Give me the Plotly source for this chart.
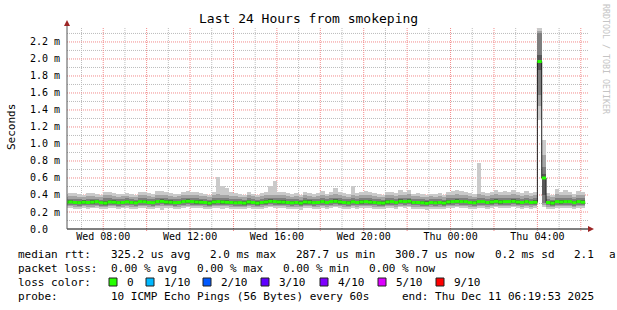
import plotly.graph_objects as go
import pandas as pd

# ---------------- data (values in microseconds, 12-minute steps) ----------------
STEP_START = "2025-12-10 06:12:00"
STEP_MINUTES = 12
X_RANGE = ["2025-12-10 06:19:53", "2025-12-11 06:19:53"]

p10 = [415,
 420, 425, 410, 405, 420, 425, 415, 405, 430, 440,
 420, 410, 415, 425, 410, 405, 440, 435, 420, 415,
 445, 450, 430, 425, 410, 415, 440, 445, 440, 435,
 425, 415, 400, 430, 610, 500, 480, 440, 420, 410,
 400, 430, 415, 405, 420, 430, 500, 570, 440, 430,
 425, 410, 420, 405, 430, 425, 410, 420, 450, 415,
 440, 480, 430, 425, 410, 500, 420, 435, 445, 430,
 420, 410, 400, 430, 440, 425, 455, 440, 460, 415,
 420, 410, 400, 415, 410, 420, 405, 430, 445, 460,
 450, 440, 420, 410, 780, 440, 420, 430, 460, 435,
 450, 440, 460, 430, 420, 445, 425, 440,
 2365, 1050,
 420, 400, 470, 430, 460, 440, 410, 450, 430]

p9 = [380,
 385, 390, 380, 375, 390, 385, 380, 375, 395, 400,
 385, 380, 385, 390, 380, 375, 400, 395, 385, 380,
 400, 405, 395, 390, 380, 385, 400, 405, 400, 395,
 390, 385, 375, 395, 410, 400, 395, 390, 385, 380,
 375, 395, 385, 375, 385, 395, 405, 400, 400, 395,
 390, 380, 385, 375, 395, 390, 380, 385, 400, 385,
 400, 410, 395, 390, 380, 405, 385, 395, 400, 395,
 385, 380, 375, 395, 400, 390, 405, 400, 410, 385,
 385, 380, 375, 385, 380, 385, 375, 395, 400, 410,
 405, 400, 385, 380, 410, 400, 385, 395, 410, 395,
 405, 400, 410, 395, 385, 400, 390, 400,
 2330, 870,
 385, 375, 410, 395, 405, 400, 380, 405, 395]

p8 = [350,
 355, 350, 350, 345, 355, 355, 350, 345, 360, 365,
 355, 350, 355, 360, 350, 345, 365, 360, 355, 350,
 365, 370, 360, 355, 350, 355, 365, 370, 365, 360,
 355, 355, 345, 360, 370, 365, 360, 355, 350, 350,
 345, 360, 355, 345, 355, 360, 370, 365, 365, 360,
 355, 350, 355, 345, 360, 355, 350, 355, 365, 355,
 365, 370, 360, 355, 350, 365, 355, 360, 365, 360,
 355, 350, 345, 360, 365, 355, 370, 365, 370, 355,
 355, 350, 345, 355, 350, 355, 345, 360, 365, 370,
 365, 365, 355, 350, 370, 365, 355, 360, 370, 360,
 365, 365, 370, 360, 355, 365, 355, 360,
 2310, 730,
 355, 345, 370, 360, 365, 365, 350, 365, 360]

p7 = [335,
 340, 335, 332, 338, 335, 338, 345, 332, 328, 340,
 338, 332, 335, 342, 335, 330, 345, 342, 335, 332,
 345, 350, 340, 338, 332, 335, 345, 350, 345, 340,
 338, 335, 328, 342, 345, 340, 338, 335, 330, 332,
 328, 340, 335, 328, 335, 340, 348, 345, 342, 340,
 335, 330, 335, 328, 340, 338, 332, 335, 345, 335,
 345, 348, 340, 335, 330, 345, 335, 340, 345, 340,
 335, 330, 328, 340, 345, 335, 348, 345, 350, 335,
 335, 330, 325, 335, 330, 335, 328, 340, 345, 348,
 345, 345, 335, 330, 345, 345, 335, 340, 348, 340,
 345, 345, 348, 340, 335, 345, 335, 340,
 2050, 650,
 335, 328, 345, 340, 345, 345, 332, 345, 340]

median = [314,
 318, 312, 310, 315, 312, 316, 322, 310, 305, 318,
 315, 310, 312, 320, 312, 308, 322, 320, 312, 310,
 322, 325, 318, 315, 310, 312, 322, 326, 322, 318,
 315, 312, 305, 318, 322, 318, 315, 312, 308, 310,
 305, 318, 312, 305, 312, 318, 325, 322, 318, 316,
 312, 308, 312, 305, 318, 315, 310, 312, 322, 312,
 322, 325, 318, 312, 308, 320, 312, 318, 322, 316,
 312, 308, 305, 318, 322, 312, 325, 322, 326, 312,
 312, 308, 302, 312, 308, 312, 305, 318, 322, 325,
 322, 322, 312, 308, 322, 322, 312, 318, 325, 318,
 322, 322, 325, 318, 312, 322, 312, 315,
 1970, 600,
 312, 305, 322, 318, 322, 322, 310, 322, 315]

p4 = [296,
 300, 294, 292, 297, 294, 298, 304, 292, 287, 300,
 297, 292, 294, 301, 294, 290, 303, 301, 294, 292,
 303, 306, 299, 297, 292, 294, 303, 307, 303, 299,
 297, 294, 287, 299, 303, 299, 297, 294, 290, 292,
 287, 299, 294, 287, 294, 299, 306, 303, 299, 297,
 294, 290, 294, 287, 299, 297, 292, 294, 303, 294,
 303, 306, 299, 294, 290, 301, 294, 299, 303, 297,
 294, 290, 287, 299, 303, 294, 306, 303, 307, 294,
 294, 290, 285, 294, 290, 294, 287, 299, 303, 306,
 303, 303, 294, 290, 303, 303, 294, 299, 306, 299,
 303, 303, 306, 299, 294, 303, 294, 297,
 1870, 400,
 294, 287, 303, 299, 303, 303, 292, 303, 297]

p3 = [280,
 283, 278, 276, 281, 278, 280, 286, 276, 272, 283,
 281, 276, 278, 284, 278, 274, 286, 284, 278, 276,
 286, 289, 282, 281, 276, 278, 286, 290, 286, 282,
 281, 278, 272, 282, 286, 282, 281, 278, 274, 276,
 272, 282, 278, 272, 278, 282, 289, 286, 282, 281,
 278, 274, 278, 272, 282, 281, 276, 278, 286, 278,
 286, 289, 282, 278, 274, 284, 278, 282, 286, 281,
 278, 274, 272, 282, 286, 278, 289, 286, 290, 278,
 278, 274, 270, 278, 274, 278, 272, 282, 286, 289,
 286, 286, 278, 274, 286, 286, 278, 282, 289, 282,
 286, 286, 289, 282, 278, 286, 278, 281,
 1580, 300,
 278, 272, 286, 282, 286, 286, 276, 286, 281]

p2 = [265,
 268, 262, 260, 266, 262, 264, 270, 260, 256, 268,
 266, 260, 262, 268, 262, 258, 270, 268, 262, 260,
 270, 273, 266, 266, 260, 262, 270, 274, 270, 266,
 266, 262, 256, 266, 270, 266, 266, 262, 258, 260,
 256, 266, 262, 256, 262, 266, 273, 270, 266, 266,
 262, 258, 262, 256, 266, 266, 260, 262, 270, 262,
 270, 273, 266, 262, 258, 268, 262, 266, 270, 266,
 262, 258, 256, 266, 270, 262, 273, 270, 274, 262,
 262, 258, 254, 262, 258, 262, 256, 266, 270, 273,
 270, 270, 262, 258, 270, 270, 262, 266, 273, 266,
 270, 270, 273, 266, 262, 270, 262, 266,
 1450, 280,
 262, 256, 270, 266, 270, 270, 260, 270, 266]

p1 = [245,
 248, 240, 238, 246, 236, 244, 250, 232, 238, 248,
 246, 238, 242, 250, 236, 240, 252, 248, 236, 240,
 250, 226, 244, 248, 240, 236, 252, 256, 250, 244,
 246, 238, 230, 244, 252, 240, 246, 240, 234, 238,
 232, 246, 240, 230, 240, 246, 255, 250, 244, 242,
 240, 232, 238, 228, 246, 244, 236, 240, 252, 238,
 250, 254, 244, 240, 234, 248, 236, 246, 250, 244,
 240, 232, 230, 244, 250, 238, 255, 250, 256, 240,
 238, 232, 226, 240, 234, 240, 230, 246, 250, 255,
 250, 252, 240, 234, 250, 252, 240, 244, 255, 246,
 250, 252, 255, 244, 238, 250, 240, 244,
 1280, 260,
 238, 230, 252, 246, 252, 250, 236, 252, 244]

Y_TICK_VALS_MS = [0.0, 0.2, 0.4, 0.6, 0.8, 1.0, 1.2, 1.4, 1.6, 1.8, 2.0, 2.2]
Y_TICK_TEXT = ["0.0\u00a0\u00a0", "0.2 m", "0.4 m", "0.6 m", "0.8 m", "1.0 m", "1.2 m",
               "1.4 m", "1.6 m", "1.8 m", "2.0 m", "2.2 m"]
Y_MINOR_MS = [0.1, 0.3, 0.5, 0.7, 0.9, 1.1, 1.3, 1.5, 1.7, 1.9, 2.1, 2.3]
X_TICK_VALS = ["2025-12-10 08:00", "2025-12-10 10:00", "2025-12-10 12:00",
               "2025-12-10 14:00", "2025-12-10 16:00", "2025-12-10 18:00",
               "2025-12-10 20:00", "2025-12-10 22:00", "2025-12-11 00:00",
               "2025-12-11 02:00", "2025-12-11 04:00", "2025-12-11 06:00"]
X_TICK_TEXT = ["Wed 08:00", "", "Wed 12:00", "", "Wed 16:00", "",
               "Wed 20:00", "", "Thu 00:00", "", "Thu 04:00", ""]
X_MINOR = ["2025-12-10 07:00", "2025-12-10 09:00", "2025-12-10 11:00", "2025-12-10 13:00",
           "2025-12-10 15:00", "2025-12-10 17:00", "2025-12-10 19:00", "2025-12-10 21:00",
           "2025-12-10 23:00", "2025-12-11 01:00", "2025-12-11 03:00", "2025-12-11 05:00"]

LOSS_LABELS = ["0", "1/10", "2/10", "3/10", "4/10", "5/10", "9/10"]
LOSS_COLORS = ["#26ff00", "#00b8ff", "#0059ff", "#5e00ff", "#7e00ff", "#dd00ff", "#ff0000"]

n = len(median)
for arr in (p1, p2, p3, p4, p7, p8, p9, p10):
    assert len(arr) == n

# ---------------- geometry ----------------
W, H = 617, 310
L, R, T, B = 67, 29, 27, 81
PW, PH = W - L - R, H - T - B
Y_MAX = 2.376e-3
FONT = "DejaVu Sans Mono"
CH = 6.62  # monospace advance at 11px

def px(x):
    return (x - L) / PW

def py(y):
    return (H - B - y) / PH

def col_x(c):
    return 16 + CH * c

US = 1e-6
times = pd.date_range(STEP_START, periods=n, freq=f"{STEP_MINUTES}min")
step = pd.Timedelta(minutes=STEP_MINUTES)
centers = times + step / 2
width_ms = STEP_MINUTES * 60 * 1000

fig = go.Figure()

bands = [(p1, p10, "#cacaca"), (p2, p9, "#a4a4a4"), (p3, p8, "#7e7e7e"), (p4, p7, "#585858")]
for lo, hi, col in bands:
    fig.add_trace(go.Bar(
        x=centers, y=[(h - l) * US for l, h in zip(lo, hi)], base=[l * US for l in lo],
        width=width_ms, marker=dict(color=col, line=dict(width=0)),
        hoverinfo="skip", showlegend=False))

# median step line
fig.add_trace(go.Scatter(
    x=list(times) + [times[-1] + step], y=[m * US for m in median] + [median[-1] * US],
    mode="lines", line=dict(color="#202020", width=1, shape="hv"),
    hoverinfo="skip", showlegend=False))

# loss-coloured median segments
gx, gy = [], []
for t, m in zip(times, median):
    gx += [t, t + step, None]
    gy += [m * US, m * US, None]
fig.add_trace(go.Scatter(
    x=gx, y=gy, mode="lines", line=dict(color=LOSS_COLORS[0], width=3),
    hoverinfo="skip", showlegend=False))

fig.update_layout(
    width=W, height=H, margin=dict(l=L, r=R, t=T, b=B, pad=0),
    paper_bgcolor="white", plot_bgcolor="white",
    barmode="overlay", bargap=0, showlegend=False,
    font=dict(family=FONT, size=10, color="black"),
    xaxis=dict(
        type="date", range=X_RANGE, tickmode="array", tickvals=X_TICK_VALS, ticktext=X_TICK_TEXT,
        showgrid=False, zeroline=False, showline=False, ticks="",
        tickfont=dict(family=FONT, size=10, color="black"), fixedrange=True),
    yaxis=dict(
        range=[0, Y_MAX], tickmode="array", tickvals=[v * 1e-3 for v in Y_TICK_VALS_MS],
        ticktext=Y_TICK_TEXT, showgrid=False, zeroline=False, showline=False, ticks="",
        ticklabelstandoff=6, tickfont=dict(family=FONT, size=10, color="black"), fixedrange=True),
)

shapes = []
MAJOR = "#f28a8a"
MINOR = "#bdbdbd"
DOT = "1px,1px"
# grid as dotted shapes below the data
for v in Y_MINOR_MS:
    shapes.append(dict(type="line", xref="paper", yref="y", x0=0, x1=1, y0=v * 1e-3, y1=v * 1e-3,
                       line=dict(color=MINOR, width=1, dash=DOT), layer="below"))
for t in X_MINOR:
    shapes.append(dict(type="line", xref="x", yref="paper", x0=t, x1=t, y0=0, y1=1,
                       line=dict(color=MINOR, width=1, dash=DOT), layer="below"))
for v in Y_TICK_VALS_MS[1:]:
    shapes.append(dict(type="line", xref="paper", yref="y", x0=0, x1=1, y0=v * 1e-3, y1=v * 1e-3,
                       line=dict(color=MAJOR, width=1, dash=DOT), layer="below"))
for t in X_TICK_VALS:
    shapes.append(dict(type="line", xref="x", yref="paper", x0=t, x1=t, y0=py(231), y1=1,
                       line=dict(color=MAJOR, width=1, dash=DOT), layer="below"))

# axis lines and arrows
shapes.append(dict(type="line", xref="paper", yref="paper", x0=px(67), x1=px(590), y0=py(229), y1=py(229),
                   line=dict(color="black", width=1), layer="above"))
shapes.append(dict(type="line", xref="paper", yref="paper", x0=px(67), x1=px(67), y0=py(229), y1=py(24),
                   line=dict(color="#555555", width=1), layer="above"))
shapes.append(dict(type="path", xref="paper", yref="paper",
                   path=f"M {px(64)} {py(26)} L {px(70)} {py(26)} L {px(67)} {py(20)} Z",
                   fillcolor="#9c2525", line=dict(width=0), layer="above"))
shapes.append(dict(type="path", xref="paper", yref="paper",
                   path=f"M {px(588)} {py(226)} L {px(588)} {py(232)} L {px(594)} {py(229)} Z",
                   fillcolor="#9c2525", line=dict(width=0), layer="above"))

annotations = []
def text(x, y, s, size=11, color="black", xanchor="left", angle=0):
    annotations.append(dict(x=px(x), y=py(y), xref="paper", yref="paper", text=s, showarrow=False,
                            xanchor=xanchor, yanchor="middle", textangle=angle,
                            font=dict(family=FONT, size=size, color=color)))

text(308, 19, "Last 24 Hours from smokeping", size=13, xanchor="center")
text(11, 127, "Seconds", size=11, xanchor="center", angle=-90)
text(606, 59, "RRDTOOL / TOBI OETIKER", size=8.3, color="#c4c4c4", xanchor="center", angle=90)

# legend lines (monospace columns)
ly = [254, 268, 282, 296]
for c, s in [(0, "median rtt:"), (14, "325.2 us avg"), (29, "2.0 ms max"), (42, "287.7 us min"),
             (57, "300.7 us now"), (72, "0.2 ms sd"), (84, "2.1")]:
    text(col_x(c), ly[0], s)
text(607, ly[0], "a")
for c, s in [(0, "packet loss:"), (14, "0.00 % avg"), (27, "0.00 % max"), (40, "0.00 % min"),
             (53, "0.00 % now")]:
    text(col_x(c), ly[1], s)
text(col_x(0), ly[2], "loss color:")
box_x = [109, 146, 203, 261, 320, 378, 436]
for bx, lab, col in zip(box_x, LOSS_LABELS, LOSS_COLORS):
    shapes.append(dict(type="rect", xref="paper", yref="paper", x0=px(bx), x1=px(bx + 8),
                       y0=py(278), y1=py(286), fillcolor=col, line=dict(color="#202020", width=1)))
    text(bx + 16, ly[2], lab)
text(col_x(0), ly[3], "probe:")
text(col_x(14), ly[3], "10 ICMP Echo Pings (56 Bytes) every 60s")
text(col_x(58), ly[3], "end: Thu Dec 11 06:19:53 2025")

fig.update_layout(shapes=shapes, annotations=annotations)
fig.write_html("out.html", config={"displayModeBar": False, "staticPlot": True})
